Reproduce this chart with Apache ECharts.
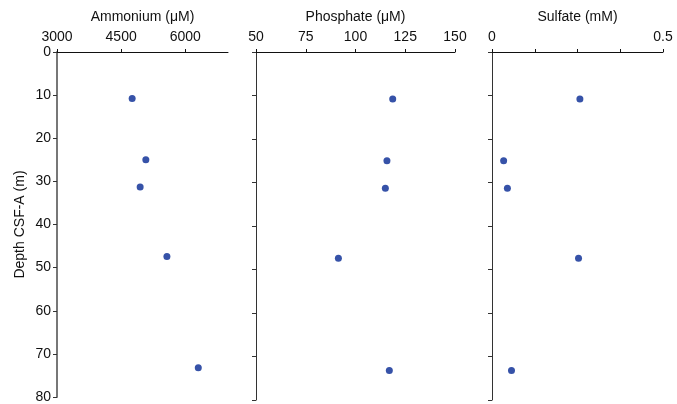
<!DOCTYPE html>
<html>
<head>
<meta charset="utf-8">
<script src="https://cdn.jsdelivr.net/npm/echarts@6/dist/echarts.min.js"></script>
<style>html,body{margin:0;padding:0;background:#fff}#c{width:677px;height:404px}</style>
</head>
<body>
<div id="c"></div>
<script>
const depth = [10.8, 25.0, 31.3, 47.4, 73.2];
const ammonium = [4758, 5078, 4945, 5571, 6305];
const phosphate = [118.7, 115.8, 115.0, 91.4, 117.0];
const sulfate = [0.257, 0.034, 0.045, 0.253, 0.057];
const depthTicks = [0, 10, 20, 30, 40, 50, 60, 70, 80];
const ammoniumTicks = [3000, 4500, 6000];
const phosphateTicks = [50, 75, 100, 125, 150];
const sulfateTicks = [0, 0.125, 0.25, 0.375, 0.5];
const sulfateLabels = [0, 0.5];

const font = 'Liberation Sans, Arial, sans-serif';
const dotColor = '#3652a8';

function pairs(xs) { return xs.map((v, i) => [v, depth[i]]); }

const grids = [
  {left: 57, top: 52, width: 171, height: 348},
  {left: 256, top: 52, width: 199, height: 348},
  {left: 492, top: 52, width: 171, height: 348}
];

function xAxis(idx, name, min, max, interval, tickVals, labelVals) {
  return {
    type: 'value', gridIndex: idx, position: 'top', min: min, max: max, interval: interval,
    name: name, nameLocation: 'middle', nameGap: 28,
    nameTextStyle: {fontFamily: font, fontSize: 14, color: '#111'},
    axisLine: {show: true, onZero: false, lineStyle: {color: '#111', width: 1}},
    axisTick: {show: true, length: 3, inside: false, customValues: tickVals, lineStyle: {color: '#111'}},
    axisLabel: {show: true, margin: 8, fontFamily: font, fontSize: 14, color: '#111', customValues: labelVals,
      formatter: v => String(v)},
    splitLine: {show: false}
  };
}

function yAxis(idx, showLabel, lineColor, lineWidth) {
  return {
    type: 'value', gridIndex: idx, inverse: true, min: 0, max: 80, interval: 10,
    name: showLabel ? 'Depth CSF-A (m)' : '', nameLocation: 'middle', nameGap: 30,
    nameTextStyle: {fontFamily: font, fontSize: 14, color: '#111'},
    axisLine: {show: true, onZero: false, lineStyle: {color: lineColor, width: lineWidth}},
    axisTick: {show: true, length: 4, inside: false, customValues: depthTicks, lineStyle: {color: '#333'}},
    axisLabel: {show: showLabel, margin: 6, fontFamily: font, fontSize: 14, color: '#111', customValues: depthTicks},
    splitLine: {show: false}
  };
}

const option = {
  animation: false,
  backgroundColor: '#fff',
  grid: grids,
  xAxis: [
    xAxis(0, 'Ammonium (μM)', 3000, 7000, 1500, ammoniumTicks, ammoniumTicks),
    xAxis(1, 'Phosphate (μM)', 50, 150, 25, phosphateTicks, phosphateTicks),
    xAxis(2, 'Sulfate (mM)', 0, 0.5, 0.125, sulfateTicks, sulfateLabels)
  ],
  yAxis: [
    yAxis(0, true, '#777', 2),
    yAxis(1, false, '#333', 1),
    yAxis(2, false, '#333', 1)
  ],
  series: [
    {type: 'scatter', xAxisIndex: 0, yAxisIndex: 0, data: pairs(ammonium), symbolSize: 7, itemStyle: {color: dotColor, opacity: 1}},
    {type: 'scatter', xAxisIndex: 1, yAxisIndex: 1, data: pairs(phosphate), symbolSize: 7, itemStyle: {color: dotColor, opacity: 1}},
    {type: 'scatter', xAxisIndex: 2, yAxisIndex: 2, data: pairs(sulfate), symbolSize: 7, itemStyle: {color: dotColor, opacity: 1}}
  ]
};
echarts.init(document.getElementById('c')).setOption(option);
</script>
</body>
</html>
